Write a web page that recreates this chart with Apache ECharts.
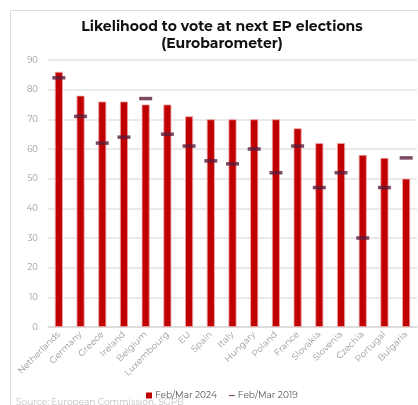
<!DOCTYPE html>
<html>
<head>
<meta charset="utf-8">
<script src="https://cdn.jsdelivr.net/npm/echarts@6/dist/echarts.min.js"></script>
<style>
  html, body { margin: 0; padding: 0; background: #fff; }
  #chart { width: 418px; height: 405px; }
</style>
</head>
<body>
<div id="chart"></div>
<script>
// Share of respondents likely to vote at the next European Parliament elections
const countries = ['Netherlands', 'Germany', 'Greece', 'Ireland', 'Belgium', 'Luxembourg', 'EU', 'Spain', 'Italy',
  'Hungary', 'Poland', 'France', 'Slovakia', 'Slovenia', 'Czechia', 'Portugal', 'Bulgaria'];
const wave2024 = [86, 78, 76, 76, 75, 75, 71, 70, 70, 70, 70, 67, 62, 62, 58, 57, 50];
const wave2019 = [84, 71, 62, 64, 77, 65, 61, 56, 55, 60, 52, 61, 47, 52, 30, 47, 57];
const yTicks = { min: 0, max: 90, step: 10 };

const font = 'Montserrat, "Open Sans", Lato, sans-serif';
const chart = echarts.init(document.getElementById('chart'), null, { renderer: 'canvas' });

chart.setOption({
  animation: false,
  backgroundColor: '#fff',
  title: {
    text: 'Likelihood to vote at next EP elections\n(Eurobarometer)',
    left: 217,
    textAlign: 'center',
    top: 13,
    textStyle: { fontFamily: font, fontWeight: 'bold', fontSize: 14, color: '#111', lineHeight: 17, align: 'center' }
  },
  graphic: [{
    type: 'rect',
    shape: { x: 10.5, y: 10.5, width: 420, height: 420 },
    style: { fill: 'none', stroke: '#dcdcdc', lineWidth: 1 },
    silent: true
  }, {
    type: 'text',
    left: 16,
    top: 398,
    style: { text: 'Source: European Commission, SGPB', fill: '#c0c0c0', font: '9px ' + font }
  }],
  legend: {
    top: 386,
    left: 141,
    itemWidth: 6,
    itemHeight: 6,
    itemGap: 12,
    textStyle: { fontFamily: font, fontSize: 9, color: '#555', padding: [0, 0, 0, -2] },
    data: [
      { name: 'Feb/Mar 2024', icon: 'rect', itemStyle: { borderWidth: 0 } },
      { name: 'Feb/Mar 2019', icon: 'path://M0,0h8v1.5h-8z' }
    ]
  },
  grid: { left: 48, right: 1, top: 60, bottom: 78 },
  xAxis: {
    type: 'category',
    data: countries,
    axisLine: { lineStyle: { color: '#d9d9d9', width: 1.5 } },
    axisTick: { show: false },
    axisLabel: { rotate: 45, interval: 0, fontFamily: font, fontSize: 9, color: '#999', margin: 6 }
  },
  yAxis: {
    type: 'value',
    min: yTicks.min,
    max: yTicks.max,
    interval: yTicks.step,
    axisLine: { show: false },
    axisTick: { show: false },
    axisLabel: { fontFamily: font, fontSize: 8.5, color: '#999', margin: 10 },
    splitLine: { lineStyle: { color: '#e3e3e3', width: 1.5 } }
  },
  series: [{
    name: 'Feb/Mar 2024',
    type: 'bar',
    data: wave2024,
    barWidth: 8,
    itemStyle: { color: '#c00000', borderColor: '#f0a6a6', borderWidth: 0.8 },
    z: 2
  }, {
    name: 'Feb/Mar 2019',
    type: 'scatter',
    data: wave2019,
    symbol: 'rect',
    symbolSize: [13, 3.5],
    itemStyle: { color: '#5a1d3c' },
    z: 3
  }]
});
</script>
</body>
</html>
